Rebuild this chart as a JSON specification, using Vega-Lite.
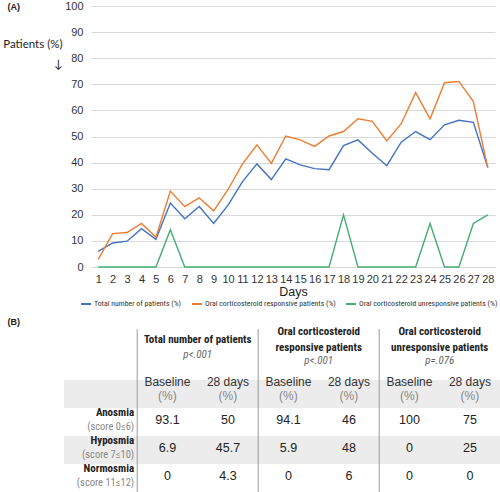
{
  "$schema": "https://vega.github.io/schema/vega-lite/v6.json",
  "background": "white",
  "padding": {"left": 2, "top": 0, "right": 0, "bottom": 0},
  "autosize": {"type": "pad"},
  "config": {"view": {"stroke": null}, "font": "Liberation Sans"},
  "bounds": "flush",
  "spacing": 62,
  "datasets": {
    "lines": [
      {"day":1,"series":"Total number of patients (%)","value":6.0},
      {"day":2,"series":"Total number of patients (%)","value":9.2},
      {"day":3,"series":"Total number of patients (%)","value":9.9},
      {"day":4,"series":"Total number of patients (%)","value":14.7},
      {"day":5,"series":"Total number of patients (%)","value":10.6},
      {"day":6,"series":"Total number of patients (%)","value":24.5},
      {"day":7,"series":"Total number of patients (%)","value":18.5},
      {"day":8,"series":"Total number of patients (%)","value":23.2},
      {"day":9,"series":"Total number of patients (%)","value":16.7},
      {"day":10,"series":"Total number of patients (%)","value":23.7},
      {"day":11,"series":"Total number of patients (%)","value":32.7},
      {"day":12,"series":"Total number of patients (%)","value":39.5},
      {"day":13,"series":"Total number of patients (%)","value":33.5},
      {"day":14,"series":"Total number of patients (%)","value":41.4},
      {"day":15,"series":"Total number of patients (%)","value":39.1},
      {"day":16,"series":"Total number of patients (%)","value":37.7},
      {"day":17,"series":"Total number of patients (%)","value":37.3},
      {"day":18,"series":"Total number of patients (%)","value":46.5},
      {"day":19,"series":"Total number of patients (%)","value":48.7},
      {"day":20,"series":"Total number of patients (%)","value":43.6},
      {"day":21,"series":"Total number of patients (%)","value":38.8},
      {"day":22,"series":"Total number of patients (%)","value":47.8},
      {"day":23,"series":"Total number of patients (%)","value":51.9},
      {"day":24,"series":"Total number of patients (%)","value":48.8},
      {"day":25,"series":"Total number of patients (%)","value":54.5},
      {"day":26,"series":"Total number of patients (%)","value":56.2},
      {"day":27,"series":"Total number of patients (%)","value":55.4},
      {"day":28,"series":"Total number of patients (%)","value":38.1},
      {"day":1,"series":"Oral corticosteroid responsive patients (%)","value":2.9},
      {"day":2,"series":"Oral corticosteroid responsive patients (%)","value":12.8},
      {"day":3,"series":"Oral corticosteroid responsive patients (%)","value":13.2},
      {"day":4,"series":"Oral corticosteroid responsive patients (%)","value":16.7},
      {"day":5,"series":"Oral corticosteroid responsive patients (%)","value":11.4},
      {"day":6,"series":"Oral corticosteroid responsive patients (%)","value":29.1},
      {"day":7,"series":"Oral corticosteroid responsive patients (%)","value":23.1},
      {"day":8,"series":"Oral corticosteroid responsive patients (%)","value":26.5},
      {"day":9,"series":"Oral corticosteroid responsive patients (%)","value":21.5},
      {"day":10,"series":"Oral corticosteroid responsive patients (%)","value":29.7},
      {"day":11,"series":"Oral corticosteroid responsive patients (%)","value":39.5},
      {"day":12,"series":"Oral corticosteroid responsive patients (%)","value":46.8},
      {"day":13,"series":"Oral corticosteroid responsive patients (%)","value":39.7},
      {"day":14,"series":"Oral corticosteroid responsive patients (%)","value":50.2},
      {"day":15,"series":"Oral corticosteroid responsive patients (%)","value":48.7},
      {"day":16,"series":"Oral corticosteroid responsive patients (%)","value":46.2},
      {"day":17,"series":"Oral corticosteroid responsive patients (%)","value":50.2},
      {"day":18,"series":"Oral corticosteroid responsive patients (%)","value":51.9},
      {"day":19,"series":"Oral corticosteroid responsive patients (%)","value":56.8},
      {"day":20,"series":"Oral corticosteroid responsive patients (%)","value":55.8},
      {"day":21,"series":"Oral corticosteroid responsive patients (%)","value":48.3},
      {"day":22,"series":"Oral corticosteroid responsive patients (%)","value":54.9},
      {"day":23,"series":"Oral corticosteroid responsive patients (%)","value":66.8},
      {"day":24,"series":"Oral corticosteroid responsive patients (%)","value":56.8},
      {"day":25,"series":"Oral corticosteroid responsive patients (%)","value":70.6},
      {"day":26,"series":"Oral corticosteroid responsive patients (%)","value":71.1},
      {"day":27,"series":"Oral corticosteroid responsive patients (%)","value":63.4},
      {"day":28,"series":"Oral corticosteroid responsive patients (%)","value":38.0},
      {"day":1,"series":"Oral corticosteroid unresponsive patients (%)","value":0},
      {"day":2,"series":"Oral corticosteroid unresponsive patients (%)","value":0},
      {"day":3,"series":"Oral corticosteroid unresponsive patients (%)","value":0},
      {"day":4,"series":"Oral corticosteroid unresponsive patients (%)","value":0},
      {"day":5,"series":"Oral corticosteroid unresponsive patients (%)","value":0},
      {"day":6,"series":"Oral corticosteroid unresponsive patients (%)","value":14.3},
      {"day":7,"series":"Oral corticosteroid unresponsive patients (%)","value":0},
      {"day":8,"series":"Oral corticosteroid unresponsive patients (%)","value":0},
      {"day":9,"series":"Oral corticosteroid unresponsive patients (%)","value":0},
      {"day":10,"series":"Oral corticosteroid unresponsive patients (%)","value":0},
      {"day":11,"series":"Oral corticosteroid unresponsive patients (%)","value":0},
      {"day":12,"series":"Oral corticosteroid unresponsive patients (%)","value":0},
      {"day":13,"series":"Oral corticosteroid unresponsive patients (%)","value":0},
      {"day":14,"series":"Oral corticosteroid unresponsive patients (%)","value":0},
      {"day":15,"series":"Oral corticosteroid unresponsive patients (%)","value":0},
      {"day":16,"series":"Oral corticosteroid unresponsive patients (%)","value":0},
      {"day":17,"series":"Oral corticosteroid unresponsive patients (%)","value":0},
      {"day":18,"series":"Oral corticosteroid unresponsive patients (%)","value":20},
      {"day":19,"series":"Oral corticosteroid unresponsive patients (%)","value":0},
      {"day":20,"series":"Oral corticosteroid unresponsive patients (%)","value":0},
      {"day":21,"series":"Oral corticosteroid unresponsive patients (%)","value":0},
      {"day":22,"series":"Oral corticosteroid unresponsive patients (%)","value":0},
      {"day":23,"series":"Oral corticosteroid unresponsive patients (%)","value":0},
      {"day":24,"series":"Oral corticosteroid unresponsive patients (%)","value":16.7},
      {"day":25,"series":"Oral corticosteroid unresponsive patients (%)","value":0},
      {"day":26,"series":"Oral corticosteroid unresponsive patients (%)","value":0},
      {"day":27,"series":"Oral corticosteroid unresponsive patients (%)","value":16.7},
      {"day":28,"series":"Oral corticosteroid unresponsive patients (%)","value":20}
    ],
    "groups": [
      {"col":"T_base","title":"Total number of patients","p":"p<.001"},
      {"col":"R_base","title":["Oral corticosteroid","responsive patients"],"p":"p<.001"},
      {"col":"U_base","title":["Oral corticosteroid","unresponsive patients"],"p":"p=.076"}
    ],
    "heads": [
      {"col":"T_base","h":"Baseline","u":"(%)"},
      {"col":"T_28","h":"28 days","u":"(%)"},
      {"col":"R_base","h":"Baseline","u":"(%)"},
      {"col":"R_28","h":"28 days","u":"(%)"},
      {"col":"U_base","h":"Baseline","u":"(%)"},
      {"col":"U_28","h":"28 days","u":"(%)"}
    ],
    "cells": [
      {"row":"Anosmia","col":"T_base","v":"93.1"},
      {"row":"Anosmia","col":"T_28","v":"50"},
      {"row":"Anosmia","col":"R_base","v":"94.1"},
      {"row":"Anosmia","col":"R_28","v":"46"},
      {"row":"Anosmia","col":"U_base","v":"100"},
      {"row":"Anosmia","col":"U_28","v":"75"},
      {"row":"Hyposmia","col":"T_base","v":"6.9"},
      {"row":"Hyposmia","col":"T_28","v":"45.7"},
      {"row":"Hyposmia","col":"R_base","v":"5.9"},
      {"row":"Hyposmia","col":"R_28","v":"48"},
      {"row":"Hyposmia","col":"U_base","v":"0"},
      {"row":"Hyposmia","col":"U_28","v":"25"},
      {"row":"Normosmia","col":"T_base","v":"0"},
      {"row":"Normosmia","col":"T_28","v":"4.3"},
      {"row":"Normosmia","col":"R_base","v":"0"},
      {"row":"Normosmia","col":"R_28","v":"6"},
      {"row":"Normosmia","col":"U_base","v":"0"},
      {"row":"Normosmia","col":"U_28","v":"0"}
    ],
    "rowlabels": [
      {"row":"Anosmia","score":"(score 0≤6)"},
      {"row":"Hyposmia","score":"(score 7≤10)"},
      {"row":"Normosmia","score":"(score 11≤12)"}
    ],
    "bands": [{"row":"H","span":"all"},{"row":"Hyposmia","span":"all"}]
  },
  "vconcat": [
    {
      "width": 404,
      "height": 261,
      "data": {"name": "lines"},
      "encoding": {
        "x": {
          "field": "day", "type": "ordinal",
          "scale": {"type": "point", "padding": 0.5},
          "axis": {"labelAngle": 0, "domain": false, "ticks": false, "tickSize": 0, "grid": false,
                   "labelPadding": 6, "labelFontSize": 11, "labelColor": "#333",
                   "title": "Days", "titleFontSize": 12.5, "titleFontWeight": "normal", "titleColor": "#222", "titlePadding": 1}
        },
        "color": {
          "field": "series", "type": "nominal",
          "scale": {
            "domain": ["Total number of patients (%)", "Oral corticosteroid responsive patients (%)", "Oral corticosteroid unresponsive patients (%)"],
            "range": ["#4472C4", "#ED7D31", "#44AE72"]
          },
          "legend": {
            "orient": "none", "legendX": -11, "legendY": 292, "direction": "horizontal",
            "title": null, "symbolType": "stroke", "symbolSize": 100, "symbolStrokeWidth": 2,
            "labelFont": "Roboto Condensed, DejaVu Sans Condensed, Liberation Sans", "labelFontSize": 7.8, "labelColor": "#333",
            "labelOffset": 2, "columnPadding": 6, "labelLimit": 300
          }
        }
      },
      "layer": [
        {
          "transform": [{"filter": "datum.series !== 'Oral corticosteroid unresponsive patients (%)'"}],
          "mark": {"type": "line", "strokeWidth": 1.4},
          "encoding": {
            "y": {
              "field": "value", "type": "quantitative",
              "scale": {"domain": [0, 100], "nice": false},
              "axis": {
                "orient": "left",
                "values": [0,10,20,30,40,50,60,70,80,90,100],
                "grid": true, "gridColor": "#d9d9d9", "domain": false, "ticks": false, "tickSize": 0,
                "labelPadding": 8, "labelFontSize": 11, "labelColor": "#333",
                "title": ["Patients (%)", "↓\u00a0\u00a0"], "titleAngle": 0, "titleX": -29, "titleY": 38,
                "titleAlign": "right", "titleBaseline": "middle", "titleFont": "Lato",
                "titleFontWeight": "normal", "titleFontSize": 11.5, "titleColor": "#222", "titleLineHeight": 20
              }
            }
          }
        },
        {
          "transform": [{"filter": "datum.series === 'Oral corticosteroid unresponsive patients (%)'"}],
          "mark": {"type": "line", "strokeWidth": 1.4},
          "encoding": {
            "y": {
              "field": "value", "type": "quantitative",
              "axis": {
                "orient": "left", "labels": false, "ticks": false, "domain": false, "grid": false,
                "title": "(A)", "titleAngle": 0, "titleX": -84, "titleY": 0,
                "titleAlign": "left", "titleBaseline": "middle", "titleFontSize": 9,
                "titleFontWeight": "bold", "titleColor": "#222"
              }
            }
          }
        }
      ],
      "resolve": {"axis": {"y": "independent"}}
    },
    {
      "width": 409,
      "height": 163,
      "encoding": {
        "x": {
          "field": "col", "type": "nominal",
          "scale": {"type": "band", "domain": ["T_base","T_28","R_base","R_28","U_base","U_28"], "range": [46.2, 409.2], "paddingInner": 0, "paddingOuter": 0},
          "axis": null
        }
      },
      "layer": [
        {
          "data": {"name": "bands"},
          "mark": {"type": "rect", "color": "#ececec"},
          "encoding": {
            "x": {
              "field": "span", "type": "nominal",
              "scale": {"type": "band", "domain": ["all"], "range": [-27, 409.2], "paddingInner": 0, "paddingOuter": 0},
              "axis": null
            },
            "y": {
              "field": "row", "type": "nominal",
              "scale": {"type": "band", "domain": ["G1","G2","H","Anosmia","Hyposmia","Normosmia"], "range": [-5, 163], "paddingInner": 0, "paddingOuter": 0},
              "axis": {"labels": false, "ticks": false, "domain": false, "grid": false,
                       "title": "(B)", "titleAngle": 0, "titleX": -84, "titleY": -8,
                       "titleAlign": "left", "titleBaseline": "middle", "titleFontSize": 9,
                       "titleFontWeight": "bold", "titleColor": "#222"}
            }
          }
        },
        {
          "data": {"name": "groups"},
          "mark": {"type": "rule", "color": "#9a9a9a", "strokeWidth": 1},
          "encoding": {
            "x": {
              "field": "col", "type": "nominal", "bandPosition": 0,
              "scale": {"type": "band", "domain": ["T_base","T_28","R_base","R_28","U_base","U_28"], "range": [46.2, 409.2], "paddingInner": 0, "paddingOuter": 0},
              "axis": null
            }
          }
        },
        {
          "data": {"name": "groups"},
          "transform": [{"filter": "datum.col === 'T_base'"}],
          "mark": {"type": "text", "font": "Roboto Condensed, DejaVu Sans Condensed, Liberation Sans", "fontWeight": "bold", "fontSize": 11, "color": "#222", "dy": 2, "lineHeight": 16, "baseline": "middle"},
          "encoding": {
            "x": {"field": "col", "type": "nominal", "bandPosition": 1,
                  "scale": {"type": "band", "domain": ["T_base","T_28","R_base","R_28","U_base","U_28"], "range": [46.2, 409.2], "paddingInner": 0, "paddingOuter": 0}, "axis": null},
            "y": {"datum": "G1", "type": "nominal"},
            "text": {"field": "title"}
          }
        },
        {
          "data": {"name": "groups"},
          "transform": [{"filter": "datum.col !== 'T_base'"}],
          "mark": {"type": "text", "font": "Roboto Condensed, DejaVu Sans Condensed, Liberation Sans", "fontWeight": "bold", "fontSize": 11, "color": "#222", "dy": -6, "lineHeight": 16, "baseline": "middle"},
          "encoding": {
            "x": {"field": "col", "type": "nominal", "bandPosition": 1,
                  "scale": {"type": "band", "domain": ["T_base","T_28","R_base","R_28","U_base","U_28"], "range": [46.2, 409.2], "paddingInner": 0, "paddingOuter": 0}, "axis": null},
            "y": {"datum": "G1", "type": "nominal"},
            "text": {"field": "title"}
          }
        },
        {
          "data": {"name": "groups"},
          "transform": [{"filter": "datum.col === 'T_base'"}],
          "mark": {"type": "text", "font": "Roboto Condensed, DejaVu Sans Condensed, Liberation Sans", "fontStyle": "italic", "fontSize": 11, "color": "#666", "dy": -11, "baseline": "middle"},
          "encoding": {
            "x": {"field": "col", "type": "nominal", "bandPosition": 1,
                  "scale": {"type": "band", "domain": ["T_base","T_28","R_base","R_28","U_base","U_28"], "range": [46.2, 409.2], "paddingInner": 0, "paddingOuter": 0}, "axis": null},
            "y": {"datum": "G2", "type": "nominal"},
            "text": {"field": "p"}
          }
        },
        {
          "data": {"name": "groups"},
          "transform": [{"filter": "datum.col !== 'T_base'"}],
          "mark": {"type": "text", "font": "Roboto Condensed, DejaVu Sans Condensed, Liberation Sans", "fontStyle": "italic", "fontSize": 11, "color": "#666", "dy": -5, "baseline": "middle"},
          "encoding": {
            "x": {"field": "col", "type": "nominal", "bandPosition": 1,
                  "scale": {"type": "band", "domain": ["T_base","T_28","R_base","R_28","U_base","U_28"], "range": [46.2, 409.2], "paddingInner": 0, "paddingOuter": 0}, "axis": null},
            "y": {"datum": "G2", "type": "nominal"},
            "text": {"field": "p"}
          }
        },
        {
          "data": {"name": "heads"},
          "mark": {"type": "text", "fontSize": 12, "color": "#333", "dy": -12, "baseline": "middle"},
          "encoding": {
            "y": {"datum": "H", "type": "nominal"},
            "text": {"field": "h"}
          }
        },
        {
          "data": {"name": "heads"},
          "mark": {"type": "text", "fontSize": 12, "color": "#888", "dy": 2, "baseline": "middle"},
          "encoding": {
            "y": {"datum": "H", "type": "nominal"},
            "text": {"field": "u"}
          }
        },
        {
          "data": {"name": "cells"},
          "mark": {"type": "text", "fontSize": 12.5, "color": "#222", "dy": -2, "baseline": "middle"},
          "encoding": {
            "y": {"field": "row", "type": "nominal"},
            "text": {"field": "v"}
          }
        },
        {
          "data": {"name": "rowlabels"},
          "mark": {"type": "text", "font": "Roboto Condensed, DejaVu Sans Condensed, Liberation Sans", "fontWeight": "bold", "fontSize": 11, "color": "#222", "align": "right", "dx": -3, "dy": -9, "baseline": "middle"},
          "encoding": {
            "x": {"datum": "T_base", "type": "nominal", "bandPosition": 0,
                  "scale": {"type": "band", "domain": ["T_base","T_28","R_base","R_28","U_base","U_28"], "range": [46.2, 409.2], "paddingInner": 0, "paddingOuter": 0}, "axis": null},
            "y": {"field": "row", "type": "nominal"},
            "text": {"field": "row"}
          }
        },
        {
          "data": {"name": "rowlabels"},
          "mark": {"type": "text", "font": "Roboto Condensed, DejaVu Sans Condensed, Liberation Sans", "fontSize": 10.5, "color": "#888", "align": "right", "dx": -3, "dy": 5, "baseline": "middle"},
          "encoding": {
            "x": {"datum": "T_base", "type": "nominal", "bandPosition": 0,
                  "scale": {"type": "band", "domain": ["T_base","T_28","R_base","R_28","U_base","U_28"], "range": [46.2, 409.2], "paddingInner": 0, "paddingOuter": 0}, "axis": null},
            "y": {"field": "row", "type": "nominal"},
            "text": {"field": "score"}
          }
        }
      ],
      "resolve": {"scale": {"x": "independent"}}
    }
  ]
}
